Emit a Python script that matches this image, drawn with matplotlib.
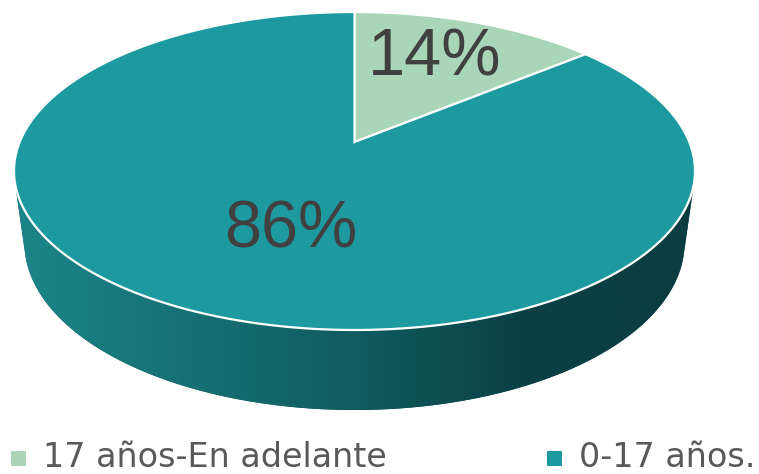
import numpy as np
import matplotlib.pyplot as plt
from matplotlib.patches import Polygon, Rectangle

# datos del grafico
labels = ['17 años-En adelante', '0-17 años.']
values = [14, 86]
colors = ['#A9D5B9', '#1C9AA0']
label_radius = [0.66, 0.55]
label_shift = [1.5, 7.0]  # grados

# vista en perspectiva del disco
phi = np.radians(40)
c, s = np.cos(phi), np.sin(phi)
r = 130 / 188
D = c * (1 + r) / (1 - r)
k_depth = 0.5  # el lateral se encoge poco (como en Excel)


def proj(th, rho=1.0, w=0.0):
    u = rho * np.cos(th)
    v = rho * np.sin(th)
    y = -s * v + c * w
    z = D + c * v + k_depth * s * w
    return u / z, y / z


th_all = np.linspace(0, 2 * np.pi, 721)
sx_all, sy_all = proj(th_all)
x0, x1, y0, y1 = 14, 695, 12, 330
sxmin, sxmax = sx_all.min(), sx_all.max()
symin, symax = sy_all.min(), sy_all.max()


def to_px(sx, sy):
    px = x0 + (sx - sxmin) / (sxmax - sxmin) * (x1 - x0)
    py = y0 + (sy - symin) / (symax - symin) * (y1 - y0)
    return px, py


# altura del lateral: borde inferior delantero en y=410
sy_t = symin + (410 - y0) / (y1 - y0) * (symax - symin)
h = (sy_t * (D - c) - s) / (c - sy_t * s * k_depth)

fig = plt.figure(figsize=(7.59, 4.74), dpi=100)
ax = fig.add_axes([0, 0, 1, 1])

# silueta del lateral (busqueda numerica)
th = np.linspace(np.pi - 0.6, 2 * np.pi + 0.6, 4000)
tx, ty = to_px(*proj(th))
bx, by = to_px(*proj(th, 1.0, h))
dtx, dty = np.gradient(tx), np.gradient(ty)
cross = dtx * (by - ty) - dty * (bx - tx)
i_mid = np.argmin(np.abs(th - 1.5 * np.pi))
iL = i_mid
while iL > 0 and cross[iL - 1] > 0:
    iL -= 1
iR = i_mid
while iR < len(th) - 1 and cross[iR + 1] > 0:
    iR += 1
th_side = np.linspace(th[iL], th[iR], 400)
tx, ty = to_px(*proj(th_side))
bx, by = to_px(*proj(th_side[::-1], 1.0, h))
side = Polygon(np.column_stack([np.r_[tx, bx], np.r_[ty, by]]), closed=True,
               facecolor='#10585c', edgecolor='none', zorder=1)
ax.add_patch(side)

stops_t = [0.0, 0.5, 0.75, 1.0]
stops_c = np.array([[28, 134, 138], [16, 92, 96], [11, 64, 68], [11, 60, 64]]) / 255
t = np.linspace(0, 1, 700)
grad = np.stack([np.interp(t, stops_t, stops_c[:, k]) for k in range(3)], axis=-1)[None, :, :]
im = ax.imshow(grad, extent=[x0 - 5, x1 + 5, 430, 150], aspect='auto', zorder=2)
im.set_clip_path(side)

# cara superior
cx, cy = to_px(0.0, 0.0)
start = np.pi / 2
total = sum(values)
for val, col, rho, sh in zip(values, colors, label_radius, label_shift):
    sweep = val / total * 2 * np.pi
    th = np.linspace(start, start - sweep, 200)
    wx, wy = to_px(*proj(th))
    wedge = Polygon(np.column_stack([np.r_[cx, wx], np.r_[cy, wy]]), closed=True,
                    facecolor=col, edgecolor='white', linewidth=1.6, zorder=3)
    ax.add_patch(wedge)
    mid = start - sweep / 2 + np.radians(sh)
    lx, ly = to_px(*proj(mid, rho))
    ax.text(lx, ly, f'{val}%', ha='center', va='center', fontsize=48,
            family='Liberation Sans', color='#404040', zorder=4)
    start -= sweep

# leyenda
leg_x = [11, 547]
for lx, lab, col in zip(leg_x, labels, colors):
    ax.add_patch(Rectangle((lx, 451), 15, 15, facecolor=col, edgecolor='none'))
    ax.text(lx + 32, 467, lab, ha='left', va='baseline', fontsize=24,
            family='DejaVu Sans', color='#595959')

ax.set_xlim(0, 759)
ax.set_ylim(474, 0)
ax.axis('off')
fig.savefig('out.png', dpi=100)
